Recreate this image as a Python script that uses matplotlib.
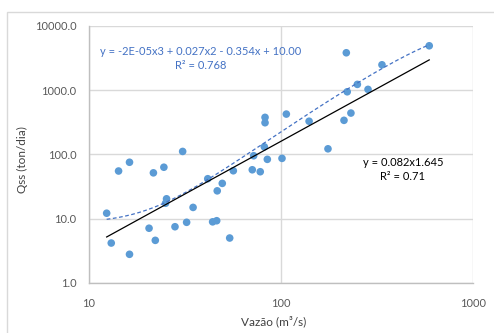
import matplotlib
matplotlib.use("Agg")
import matplotlib.pyplot as plt
from matplotlib.patches import Rectangle
from matplotlib.ticker import FixedLocator, NullLocator
import numpy as np

# ── data ─────────────────────────────────────────────────────────────
vazao = [12.4, 13.1, 14.3, 16.3, 16.3, 20.6, 22.2, 21.7, 24.6, 25.4,
         25.1, 30.8, 28.1, 32.3, 34.9, 41.6, 44.1, 46.3, 46.6, 49.5,
         54.1, 56.5, 70.9, 78.0, 72.1, 84.9, 81.9, 82.6, 82.6, 106.6,
         101.2, 140, 175.5, 212.6, 231, 221, 249.5, 283.5, 218.6, 335, 590]
qss = [12.1, 4.15, 55.0, 75.3, 2.77, 7.06, 4.57, 51.5, 63.0, 20.3,
       17.3, 111, 7.45, 8.73, 14.9, 41.7, 8.88, 9.24, 27.0, 35.3,
       4.97, 55.5, 57.5, 53.6, 95.1, 83.6, 131, 377, 311, 424,
       86.6, 328, 122, 339, 440, 944, 1231, 1029, 3827, 2487, 4918]

# trendline coefficients as printed on the chart
poly_coef = [-2e-05, 0.027, -0.354, 10.00]
pow_a, pow_b = 0.082, 1.645

x_ticks = [10, 100, 1000]
y_ticks = [1, 10, 100, 1000, 10000]

# ── style ────────────────────────────────────────────────────────────
FONT = "Lato"
PT_BLUE = "#5B9BD5"
EQ_BLUE = "#4472C4"
TICK_CLR = "#595959"
GRID_CLR = "#D9D9D9"
AXIS_CLR = "#BFBFBF"

fig = plt.figure(figsize=(4.94, 3.33), dpi=100)
fig.patch.set_facecolor("white")

# chart-area border (runs off the right/bottom edge in the reference)
fig.patches.append(Rectangle((7 / 494, -0.1), 1.2, 1 - 12 / 333 + 0.1,
                             transform=fig.transFigure, fill=False,
                             ec="#D9D9D9", lw=1.0))

ax = fig.add_axes([88.7 / 494, 1 - 282.7 / 333,
                   (473.3 - 88.7) / 494, (282.7 - 26) / 333])
ax.set_xscale("log")
ax.set_yscale("log")
ax.set_xlim(10, 1000)
ax.set_ylim(1, 10000)

ax.xaxis.set_major_locator(FixedLocator(x_ticks))
ax.yaxis.set_major_locator(FixedLocator(y_ticks))
ax.xaxis.set_minor_locator(NullLocator())
ax.yaxis.set_minor_locator(NullLocator())
ax.set_xticklabels([str(t) for t in x_ticks])
ax.set_yticklabels([f"{t:.1f}" for t in y_ticks])
ax.tick_params(length=0, labelsize=8, colors=TICK_CLR)
ax.tick_params(axis="x", pad=11)
ax.tick_params(axis="y", pad=9)
for lab in ax.get_xticklabels() + ax.get_yticklabels():
    lab.set_fontfamily(FONT)

ax.grid(True, color=GRID_CLR, lw=1.0, zorder=0)
for s in ["top", "right"]:
    ax.spines[s].set_visible(False)
for s in ["left", "bottom"]:
    ax.spines[s].set_color(AXIS_CLR)
    ax.spines[s].set_linewidth(1.0)

# points
ax.scatter(vazao, qss, s=30, color=PT_BLUE, edgecolors="none", zorder=3)

# trendlines
xs = np.geomspace(min(vazao), max(vazao), 200)
ax.plot(xs, np.polyval(poly_coef, xs), color=EQ_BLUE, lw=0.9,
        ls=(0, (3, 2)), zorder=4)
ax.plot(xs, pow_a * xs ** pow_b, color="black", lw=0.9, zorder=4)

# equations
ax.text(0.29, 0.875, "y = -2E-05x3 + 0.027x2 - 0.354x + 10.00\nR\u00b2 = 0.768",
        transform=ax.transAxes, ha="center", va="center", fontsize=8,
        color=EQ_BLUE, fontfamily=FONT, linespacing=1.35)
ax.text(0.817, 0.44, "y = 0.082x1.645\nR\u00b2 = 0.71",
        transform=ax.transAxes, ha="center", va="center", fontsize=8,
        color="black", fontfamily=FONT, linespacing=1.35)

# axis labels
ax.set_xlabel("Vaz\u00e3o (m\u00b3/s)", fontsize=8.5, color="#404040",
              fontfamily=FONT)
ax.set_ylabel("Qss (ton/dia)", fontsize=8.5, color="#404040",
              fontfamily=FONT)
ax.xaxis.set_label_coords(0.482, -0.13)
ax.yaxis.set_label_coords(-0.158, 0.478)

fig.savefig("out.png", dpi=100, facecolor="white")
plt.close()
